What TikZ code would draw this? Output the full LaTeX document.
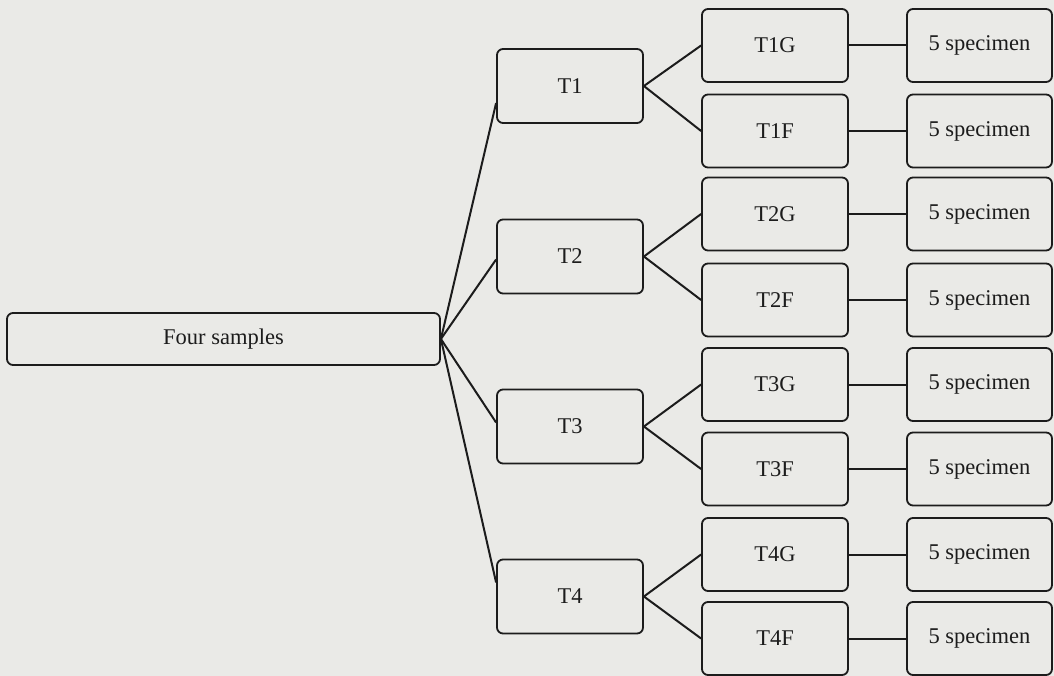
\documentclass[tikz,border=0pt]{standalone}
\usepackage{fontspec}
\setmainfont{Liberation Serif}
\definecolor{paper}{RGB}{234,234,231}
\definecolor{ink}{RGB}{28,28,28}
\begin{document}
\begin{tikzpicture}[x=1pt,y=-1pt,
  box/.style={draw=ink, line width=1.8pt, rounded corners=6pt, fill=paper,
    text=ink, font=\fontsize{22.5}{26}\selectfont, inner sep=0pt,
    minimum width=146pt, minimum height=73pt},
  wide/.style={box, minimum width=433pt, minimum height=52pt},
  link/.style={draw=ink, line width=2pt}]
  % canvas
  \fill[paper] (0,0) rectangle (1054,676);
  \useasboundingbox (0,0) rectangle (1054,676);

  % root
  \node[wide] (four) at (223.5,339) {Four samples};

  % first level
  \node[box, minimum height=74pt] (t1) at (570,86)    {T1};
  \node[box, minimum height=74pt] (t2) at (570,256.5) {T2};
  \node[box, minimum height=74pt] (t3) at (570,426.5) {T3};
  \node[box, minimum height=74pt] (t4) at (570,596.5) {T4};

  % second level
  \node[box] (t1g) at (775,45.5)  {T1G};
  \node[box] (t1f) at (775,131)   {T1F};
  \node[box] (t2g) at (775,214)   {T2G};
  \node[box] (t2f) at (775,300)   {T2F};
  \node[box] (t3g) at (775,384.5) {T3G};
  \node[box] (t3f) at (775,469)   {T3F};
  \node[box] (t4g) at (775,554.5) {T4G};
  \node[box] (t4f) at (775,638.5) {T4F};

  % specimens
  \foreach \n/\y in {1g/45.5,1f/131,2g/214,2f/300,3g/384.5,3f/469,4g/554.5,4f/638.5}
    \node[box, minimum width=145pt] (s\n) at (979.5,\y) {5 specimen};

  % root to first level
  \draw[link] (four.east) -- ([yshift=-17pt]t1.west);
  \draw[link] (four.east) -- ([yshift=-3pt]t2.west);
  \draw[link] (four.east) -- ([yshift=4pt]t3.west);
  \draw[link] (four.east) -- ([yshift=14pt]t4.west);

  % first level to second level, second level to specimens
  \foreach \i in {1,2,3,4} {
    \draw[link] (t\i.east) -- (t\i g.west);
    \draw[link] (t\i.east) -- (t\i f.west);
    \draw[link] (t\i g.east) -- (s\i g.west);
    \draw[link] (t\i f.east) -- (s\i f.west);
  }
\end{tikzpicture}
\end{document}
